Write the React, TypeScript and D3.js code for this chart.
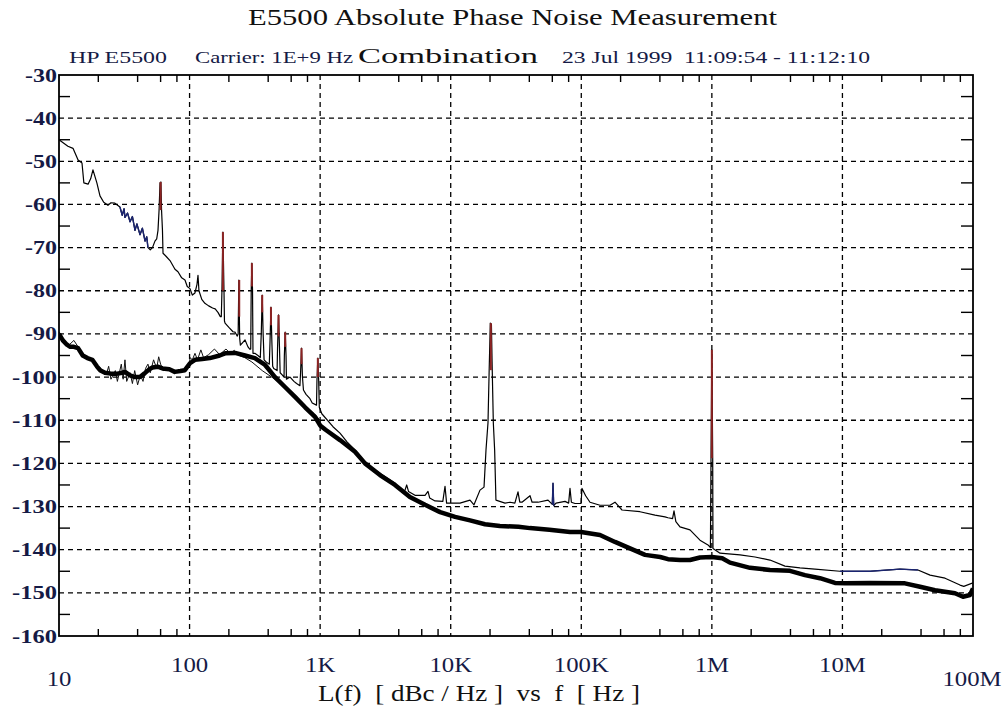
import React from "react";
import * as d3 from "d3";

// ---------- data ----------
const upperFreq: number[] = [
  10, 11.7, 12.8, 14.0, 15.0, 15.5, 16.7, 17.5, 18.2, 19.5, 20.6, 22, 23.7, 25, 26.8, 29.3, 30.5, 31.5, 32.0, 33.5,
  35.0, 36.5, 38.2, 39.5, 41.7, 43.5, 45.6, 47, 48.0, 50, 52, 54.3, 56, 57.3, 58.4, 59.4, 60.3, 61.0, 62.0, 62.6,
  66, 70.8, 77.3, 81.5, 87, 92.2, 96, 100.7, 105, 110, 114, 116, 118, 124, 131, 140, 150, 157, 165, 172,
  175, 177, 180, 183.5, 185, 187, 200, 215, 223, 232, 235.5, 238.5, 242, 245, 255, 266, 280, 289, 294, 296.5,
  300, 303.5, 306, 316, 334, 348, 354, 360, 366, 372, 386, 408, 413, 420, 427, 433, 441, 468, 472, 480,
  488, 494, 512, 529, 532, 540, 548, 552, 588, 630, 660, 700, 708, 720, 732, 745, 780, 836, 870, 938,
  945, 960, 975, 985, 1030, 1254, 1419, 1606, 1849, 2206, 2873, 3743, 4250, 4467, 4600, 4750, 5328, 6358, 6700, 6900,
  7587, 8700, 9044, 9300, 11780, 14050, 15080, 16760, 17990, 18630, 19300, 19700, 20100, 20500, 20800, 21200, 21700, 22200, 26050, 28460,
  31000, 32760, 33800, 35150, 40480, 42000, 46630, 55620, 60000, 60730, 61500, 64040, 75040, 80000, 81950, 84000, 89520, 99530, 101300, 108000,
  116600, 139100, 166000, 181200, 205000, 281600, 367000, 437700, 461600, 500000, 513000, 530000, 570000, 680000, 811000, 934000, 975000, 985000, 1000000, 1015000,
  1020000, 1155000, 1643000, 2140000, 2787000, 3630000, 4728000, 6160000, 9570000, 16300000, 27600000, 37900000, 46900000, 61100000, 79500000, 85000000, 100000000,
];
const upperDb: number[] = [
  -45, -46.5, -47, -49.7, -50.4, -55, -55.3, -54, -52, -55, -58, -59.5, -60.2, -59.6, -59.7, -60.6, -62.5, -61, -63, -62,
  -64, -62.8, -66, -64.5, -67, -65.5, -68.5, -67.5, -70, -70.5, -70, -68.5, -68, -66, -61.3, -55, -54.8, -61.3, -66, -71.3,
  -72, -73, -75, -75.6, -77, -77.5, -79, -79.5, -81, -80.5, -78.5, -76.4, -80, -82, -82.9, -83.5, -84, -84.2, -85, -86,
  -86, -80, -66.4, -80, -87, -87.5, -88.5, -89.5, -89.6, -90.5, -90, -77.5, -91, -92.6, -92, -91.4, -93, -93.5, -93.5, -80,
  -73.6, -80, -94.5, -94.5, -95, -95.5, -90, -81, -90, -96, -96.5, -97, -92, -83.8, -92, -97.5, -98, -98.5, -93, -85.6,
  -93, -99, -99.5, -100, -95, -89.6, -95, -100.5, -100, -101, -101.5, -102, -99, -93.3, -100, -103, -104, -105, -106, -106.5,
  -101, -95.6, -101, -107, -108.5, -111.5, -113, -115, -116.9, -120, -122.3, -124.6, -126.6, -126.2, -125, -126.5, -127.4, -127.4, -126.5, -128,
  -128.7, -128.8, -125.3, -129.2, -129.2, -128.5, -129.6, -126.2, -125.5, -116.9, -110.6, -98.4, -87.5, -87.8, -98.4, -110.6, -116.9, -128.5, -129.2, -129,
  -129.2, -126.6, -129, -129, -127.5, -129, -129, -128.5, -129.5, -124.6, -129.8, -129.2, -128.8, -129.2, -125.8, -129, -129.3, -129.3, -125.8, -127.5,
  -129, -129.7, -129.7, -129, -130.8, -131.2, -132, -132.4, -132.6, -132.8, -131, -133.5, -134.7, -135.4, -137.8, -138.9, -139.5, -118.8, -93.7, -118.8,
  -139.7, -140.8, -141.2, -141.7, -142.4, -143.8, -144.2, -144.5, -145, -145, -144.5, -144.7, -145.9, -146.6, -148.2, -148.5, -147.7,
];

const thickFreq: number[] = [
  10, 10.7, 11.5, 12.2, 13.0, 14.0, 15.2, 16.5, 18.0, 19.5, 20.6, 22.5, 25, 28, 30.5, 32, 35, 38.2, 41.7, 45,
  49, 52, 57, 62, 70, 77, 85, 92, 100.7, 110, 125, 143, 170, 187, 223, 266, 316, 379, 451, 538,
  642, 767, 914, 1000, 1100, 1419, 1849, 2206, 2873, 3743, 4870, 6358, 8300, 10800, 14050, 18300, 23800, 33000, 40480, 57000,
  81950, 99530, 139100, 181200, 236000, 308000, 402000, 461600, 570000, 680000, 811000, 1000000, 1200000, 1377000, 1960000, 2787000, 3963000, 5163000, 6727000, 8770000,
  10470000, 16300000, 30100000, 39300000, 51200000, 72800000, 83800000, 94800000, 100000000,
];
const thickDb: number[] = [
  -90, -91.5, -92.5, -93, -93, -93.3, -95, -95.6, -96, -97.5, -98.4, -99, -99.2, -99.2, -99, -98.8, -99.6, -100, -100, -99.2,
  -98.2, -97.8, -97.6, -98, -98.2, -98.8, -98.6, -98.4, -96.8, -96, -95.8, -95.6, -95, -94.5, -94.4, -95, -95.6, -97.2, -100, -102.3,
  -104.6, -107, -109.2, -111.2, -112.2, -114.6, -117.3, -120, -122.7, -125, -127.8, -129.6, -131.3, -132.4, -133.2, -134.1, -134.5, -134.7, -135, -135.4,
  -135.9, -135.9, -136.6, -138.2, -139.7, -141.2, -141.7, -142.2, -142.4, -142.4, -141.8, -141.7, -142, -143, -144.2, -144.7, -144.9, -145.9, -146.6, -147.7,
  -147.8, -147.7, -147.8, -148.6, -149.4, -150.1, -150.9, -150.5, -149,
];

const rawFreq: number[] = [
  10, 11, 12, 13, 14, 15.5, 17, 19, 21, 23, 24, 25, 27, 28, 30, 31, 32, 33, 35, 36.5,
  38, 40, 42, 44, 46, 48, 50, 53, 56, 58, 60, 63, 70, 78, 85, 95, 99, 101, 105, 110,
  115, 122, 128, 140, 155, 170, 190, 205, 220, 240, 265, 300, 360, 450, 540, 640, 760, 900, 1000,
];
const rawDb: number[] = [
  -89.5, -92, -92.5, -91.5, -93, -95, -95.5, -97, -98, -99.5, -97.5, -100.5, -98.5, -101, -97, -100.5, -96, -101, -99, -101.5,
  -98.5, -101.8, -99.5, -101, -98, -97, -99, -96, -98, -95.3, -97, -98.5, -98, -99, -98.5, -98.2, -97.5, -95.5, -96, -94.5,
  -96, -93.7, -95.5, -94.8, -93.5, -94.8, -93.5, -94.5, -93.8, -95, -95.5, -96.5, -98.5, -100.5, -102.5, -104.5, -106.5, -108.5, -110,
];

// spur tops drawn in red: frequency, peak level, lower end of the red part
const spurFreq: number[] = [60, 180, 240, 300, 360, 420, 480, 540, 720, 960, 20300, 1000000];
const spurPeak: number[] = [-54.8, -66.4, -77.5, -73.6, -81, -83.8, -85.6, -89.6, -93.3, -95.6, -87.5, -93.7];
const spurRedLow: number[] = [-61.3, -80, -86, -79, -85, -88, -90.6, -93, -97, -100, -98.4, -118.8];

// frequency ranges of the upper trace drawn in dark blue
const navyFrom: number[] = [29.3, 59000, 9570000];
const navyTo: number[] = [48, 62000, 37900000];

const yTicks: number[] = [-30, -40, -50, -60, -70, -80, -90, -100, -110, -120, -130, -140, -150, -160];
const xTickValues: number[] = [10, 100, 1000, 10000, 100000, 1000000, 10000000, 100000000];
const xTickLabels: string[] = ["10", "100", "1K", "10K", "100K", "1M", "10M", "100M"];

// ---------- layout ----------
const W = 1006;
const H = 709;
const L = 59, R = 973, T = 75, B = 636;

export default function App() {
  const x = d3.scaleLog().domain([10, 1e8]).range([L, R]);
  const y = d3.scaleLinear().domain([-160, -30]).range([B, T]);
  const line = d3
    .line<[number, number]>()
    .x((d) => x(d[0]))
    .y((d) => y(d[1]));

  const upper = upperFreq.map((f, i) => [f, upperDb[i]] as [number, number]);
  const thick = thickFreq.map((f, i) => [f, thickDb[i]] as [number, number]);
  const raw = rawFreq.map((f, i) => [f, rawDb[i]] as [number, number]);
  const navyParts = navyFrom.map((a, i) => upper.filter((d) => d[0] >= a && d[0] <= navyTo[i]));

  const decades = xTickValues.slice(1, -1);
  const hGrid = yTicks.filter((v) => v !== -30 && v !== -160);
  const minorX: number[] = [];
  for (let k = 1; k < 8; k++) {
    for (const m of [2, 4, 6, 8]) minorX.push(m * Math.pow(10, k));
  }
  const minorY: number[] = d3.range(-155, -30, 10);

  const font = '"Liberation Serif", "Times New Roman", Times, serif';
  const navy = "#151a45";
  const red = "#8c2323";
  const ts = { fontFamily: font } as React.CSSProperties;

  return (
    <svg width={W} height={H} style={{ position: "absolute", left: 0, top: 0, background: "#fff" }}>
      <rect x={0} y={0} width={W} height={H} fill="#fff" />
      {/* titles */}
      <text x={248} y={25} style={ts} fontSize={24} textLength={529} lengthAdjust="spacingAndGlyphs" fill="#111">
        E5500 Absolute Phase Noise Measurement
      </text>
      <text x={69} y={63} style={ts} fontSize={16} textLength={98} lengthAdjust="spacingAndGlyphs" fill={navy}>
        HP E5500
      </text>
      <text x={195} y={63} style={ts} fontSize={16} textLength={158} lengthAdjust="spacingAndGlyphs" fill={navy}>
        Carrier: 1E+9 Hz
      </text>
      <text x={358} y={63} style={ts} fontSize={21} textLength={180} lengthAdjust="spacingAndGlyphs" fill="#111">
        Combination
      </text>
      <text x={562} y={63} style={{ ...ts, whiteSpace: "pre" }} fontSize={16} textLength={308} lengthAdjust="spacingAndGlyphs" fill={navy}>
        {"23 Jul 1999  11:09:54 - 11:12:10"}
      </text>

      {/* grid */}
      <g stroke="#000" strokeWidth={1.3} strokeDasharray="5,4" fill="none">
        {hGrid.map((v) => (
          <line key={"h" + v} x1={L} x2={R} y1={y(v)} y2={y(v)} />
        ))}
        {decades.map((v) => (
          <line key={"v" + v} x1={x(v)} x2={x(v)} y1={T} y2={B} />
        ))}
      </g>

      {/* minor ticks */}
      <g stroke="#000" strokeWidth={1.4}>
        {minorX.map((v) => (
          <g key={"mx" + v}>
            <line x1={x(v)} x2={x(v)} y1={B} y2={B - 7} />
            <line x1={x(v)} x2={x(v)} y1={T} y2={T + 7} />
          </g>
        ))}
        {minorY.map((v) => (
          <g key={"my" + v}>
            <line x1={L} x2={L + 11} y1={y(v)} y2={y(v)} />
            <line x1={R} x2={R - 12} y1={y(v)} y2={y(v)} />
          </g>
        ))}
      </g>

      {/* traces */}
      <defs>
        <clipPath id="plotclip">
          <rect x={L} y={T} width={R - L} height={B - T} />
        </clipPath>
      </defs>
      <g clipPath="url(#plotclip)" fill="none" strokeLinejoin="round">
        <path d={line(raw) || ""} stroke="#111" strokeWidth={1} />
        <path d={line(thick) || ""} stroke="#000" strokeWidth={4.5} />
        <path d={line(upper) || ""} stroke="#000" strokeWidth={1.2} />
        {navyParts.map((p, i) => (
          <path key={"nv" + i} d={line(p) || ""} stroke="#1a2470" strokeWidth={1.4} />
        ))}
        {spurFreq.map((f, i) => (
          <line key={"sp" + f} x1={x(f)} x2={x(f)} y1={y(spurPeak[i])} y2={y(spurRedLow[i])} stroke={red} strokeWidth={2} />
        ))}
      </g>

      {/* frame */}
      <rect x={L} y={T} width={R - L} height={B - T} fill="none" stroke="#000" strokeWidth={1.8} />

      {/* y tick labels */}
      {yTicks.map((v) => (
        <text
          key={"yl" + v}
          x={57}
          y={y(v) + 6.5}
          textAnchor="end"
          style={ts}
          fontSize={19}
          fontWeight="bold"
          fill={navy}
          textLength={v <= -100 ? 45 : 32}
          lengthAdjust="spacingAndGlyphs"
        >
          {v}
        </text>
      ))}

      {/* x tick labels */}
      {xTickValues.map((v, i) => {
        const end = i === 0 || i === xTickValues.length - 1;
        const cx = i === xTickValues.length - 1 ? 972 : x(v);
        return (
          <text
            key={"xl" + v}
            transform={`translate(${cx},${end ? 686 : 672}) scale(1.18,1)`}
            textAnchor="middle"
            style={ts}
            fontSize={21}
            fill={navy}
          >
            {xTickLabels[i]}
          </text>
        );
      })}

      {/* axis title */}
      <text x={318} y={701} style={{ ...ts, whiteSpace: "pre" }} fontSize={23} textLength={322} lengthAdjust="spacingAndGlyphs" fill="#111">
        {"L(f)  [ dBc / Hz ]  vs  f  [ Hz ]"}
      </text>
    </svg>
  );
}
